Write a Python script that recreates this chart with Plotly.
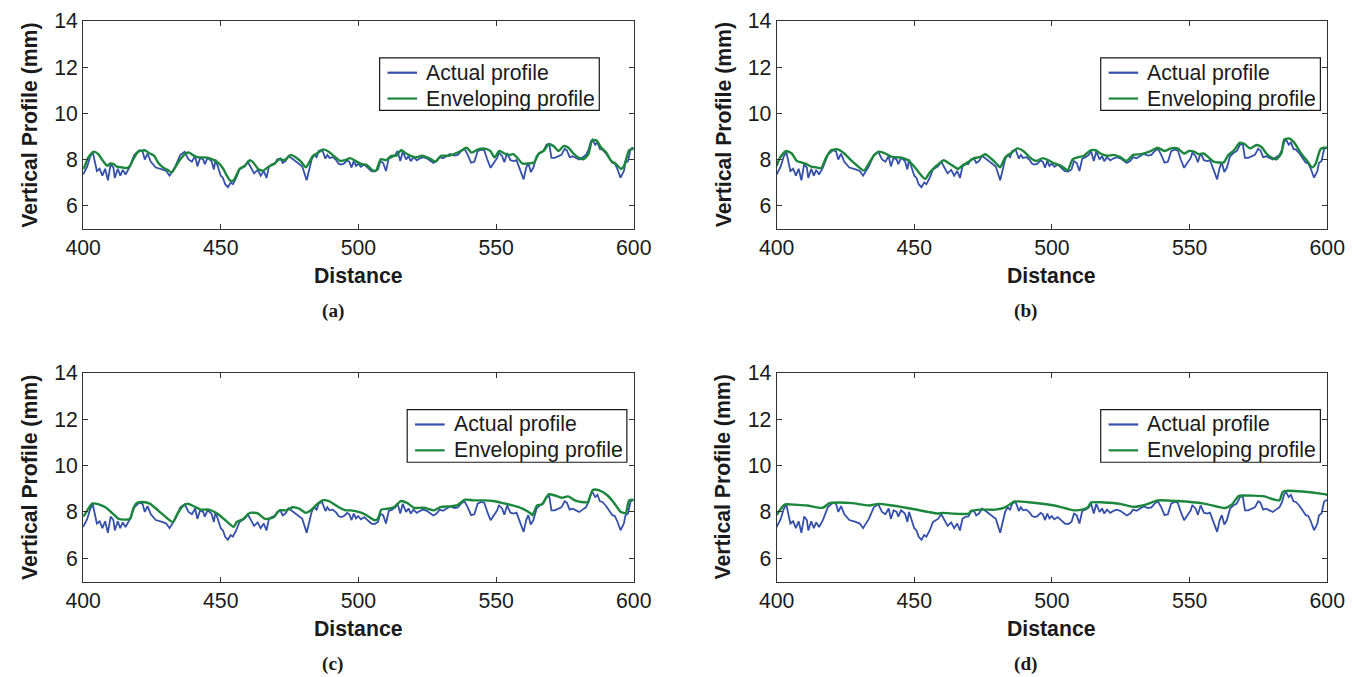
import plotly.graph_objects as go

# Measured road profile (distance, height in mm)
actual_x = [400, 401.5, 402.5, 403.5, 405, 406, 407, 408, 409, 410, 411, 411.5, 412.6, 413.5, 414.4,
            415.4, 416.8, 418.6, 420.4, 421.6, 422.4, 423.4, 424.6, 426.4, 428.7, 430.2, 431.4,
            433.5, 435.3, 436.9, 438.3, 439.5, 440.7, 441.5, 442.5, 443.6, 444.2, 445.2, 446.6,
            447.5, 448.1, 449, 450, 450.8, 451.6, 452.6, 453.6, 454.4, 455.6, 456.8, 458.6,
            459.8, 461, 462.1, 463.4, 464.5, 465.6, 466.6, 467.5, 468.7, 469.6, 470.5, 471.7,
            472.5, 473.5, 474.6, 475.8, 477, 478.2, 479.6, 481.2, 482, 483, 483.9, 484.8, 485.6,
            486.8, 488, 488.7, 489.5, 490.7, 492, 492.8, 493.7, 494.7, 495.9, 496.7, 497.5,
            498.3, 499.1, 499.9, 500.9, 502.1, 503.3, 504.7, 505.9, 507.1, 508, 509, 510, 511,
            512.2, 513.4, 514.2, 515.2, 516.1, 517.3, 518.2, 519, 520, 521.2, 522.4, 523.5,
            524.8, 526, 527.2, 528.4, 529.5, 530.7, 531.9, 533.3, 534.9, 536.1, 537.3, 538.5,
            539.7, 540.9, 542.1, 543.3, 544.5, 545.7, 546.8, 548, 549.2, 550.4, 551, 552.2, 553,
            554, 555.2, 556.4, 557.4, 558.2, 559, 560, 560.9, 561.7, 562.6, 563.5, 564.7, 565.9,
            567.1, 568.3, 569.3, 570.1, 571.3, 572.5, 573.7, 574.9, 575.7, 576.7, 577.8, 579,
            580.2, 581.4, 582.6, 583.6, 584.4, 585, 586, 586.8, 587.7, 588.6, 589.8, 591, 592.2,
            593.1, 594, 595.2, 596.4, 597, 597.9, 598.8, 599.4, 600]
actual_y = [7.35, 7.7, 8.1, 8.33, 7.5, 7.6, 7.3, 7.6, 7.1, 7.8, 7.65, 7.2, 7.6, 7.3, 7.55,
            7.35, 7.65, 8.2, 8.4, 8.35, 8.0, 8.25, 7.9, 7.65, 7.57, 7.5, 7.3,
            7.7, 8.2, 8.33, 8.0, 7.9, 8.15, 7.7, 8.07, 8.0, 7.8, 8.07, 7.93,
            7.57, 8.0, 7.65, 7.3, 7.2, 6.93, 6.8, 7.0, 6.93, 7.2, 7.57, 7.7,
            7.9, 7.65, 7.4, 7.55, 7.3, 7.5, 7.2, 7.7, 7.8, 7.8, 8.0, 8.05,
            7.85, 7.93, 8.15, 8.05, 7.93, 7.85, 7.7, 7.1, 7.57, 8.0, 8.2, 8.1, 8.37,
            8.43, 8.04, 8.2, 8.07, 8.1, 7.96, 7.82, 7.78, 7.82, 7.96, 7.9, 7.65,
            7.93, 7.72, 7.82, 7.68, 7.78, 7.65, 7.5, 7.48, 7.57, 7.93, 7.85, 7.5, 8.04,
            8.1, 8.2, 8.37, 7.93, 8.35, 8.0, 8.15, 7.93, 8.1, 7.96, 8.05, 8.1,
            8.05, 7.96, 7.85, 7.93, 8.1, 8.05, 8.15, 8.24, 8.17, 8.2, 8.36, 8.46,
            8.2, 7.86, 7.9, 8.36, 8.43, 8.4, 8.0, 7.64, 7.86, 8.07, 8.3, 8.14, 7.88,
            8.28, 7.97, 7.93, 7.97, 7.7, 7.46, 7.14, 7.64, 7.86, 7.46, 7.64, 8.14, 8.28,
            8.36, 8.64, 8.68, 8.07, 8.07, 8.14, 8.2, 8.46, 8.4, 8.1, 8.14, 8.07,
            8.0, 8.1, 8.2, 8.43, 8.78, 8.86, 8.64, 8.74, 8.46, 8.43, 8.28, 8.07, 7.86,
            7.83, 7.6, 7.21, 7.5, 7.86, 7.93, 8.43, 8.5, 8.5]

# Enveloping profile, smallest tyre (a)
env_a_x = [400, 400.4, 401.9, 403.9, 405.5, 407.2, 408.7, 409.9, 411.1, 412.3, 414.1, 415.9, 417.1,
           418.2, 420, 422.4, 424.2, 425.8, 427.2, 429, 430.8, 432.2, 433.8, 435.3, 437.3, 438.5,
           440.3, 442.1, 443.9, 445.7, 447.5, 449.3, 450.9, 452.2, 453.4, 454.6, 455.6, 456.8,
           458.8, 460.6, 461.8, 463.6, 465.4, 467.1, 469.5, 471.3, 473.1, 475.5, 477.3, 479.1,
           480.9, 482.1, 483.5, 485.4, 487.4, 489.2, 491, 493.4, 495.2, 497, 499.3, 501.1,
           502.9, 505.3, 506.5, 508.1, 510.1, 511.9, 513.7, 515.5, 517.3, 519, 520.8, 523.2,
           525.6, 528, 530, 532.7, 535.1, 537.1, 539.3, 541.1, 543.5, 545.9, 547.9, 549.4,
           551.2, 553, 554.8, 556.2, 557.8, 559.5, 562, 563.8, 565.5, 567.3, 569.1, 570.9,
           572.7, 574.5, 576.3, 578.1, 579.9, 581.7, 583.5, 584.9, 586.4, 588.2, 590, 591.8,
           593.6, 595.4, 596.5, 598.3, 600]
env_a_y = [7.6, 7.66, 8.09, 8.34, 8.23, 7.94, 7.73, 7.83, 7.8, 7.69, 7.66, 7.63, 7.73,
           8.01, 8.34, 8.4, 8.26, 8.16, 7.87, 7.66, 7.54, 7.44, 7.73, 8.01, 8.26, 8.3,
           8.16, 8.09, 8.09, 8.06, 7.97, 7.83, 7.59, 7.3, 7.09, 7.09, 7.3, 7.59,
           7.73, 7.97, 7.87, 7.59, 7.52, 7.66, 7.83, 8.01, 7.97, 8.2, 8.09, 7.91,
           7.66, 7.87, 8.16, 8.3, 8.44, 8.34, 8.16, 7.94, 7.97, 8.06, 7.91, 7.8,
           7.77, 7.52, 7.54, 8.01, 7.97, 8.16, 8.16, 8.4, 8.26, 8.16, 8.09, 8.16,
           8.06, 7.91, 8.16, 8.16, 8.26, 8.37, 8.51, 8.3, 8.44, 8.47, 8.37, 8.09,
           8.37, 8.26, 8.2, 8.23, 8.06, 7.83, 7.83, 7.87, 8.26, 8.37, 8.66, 8.58,
           8.37, 8.58, 8.51, 8.26, 8.09, 8.01, 8.23, 8.83, 8.83, 8.51, 8.3, 7.94,
           7.8, 7.59, 7.73, 8.4, 8.46]

# Enveloping profile (b)
env_b_x = [400, 401.3, 403.5, 405.5, 407.3, 409.1, 410.9, 412.6, 414.4, 416.2, 418, 419.8, 422.2,
           424.6, 427, 429.3, 431.7, 433.5, 435.3, 437.1, 439.5, 441.9, 444.2, 446, 448.1,
           450.2, 452.6, 454, 455.6, 457.4, 459.1, 460.7, 462.7, 464.5, 465.9, 467.4, 469.9,
           471.7, 474, 475.8, 478.2, 480, 481.2, 483, 485.4, 487.4, 489.6, 492, 494.3, 496.7,
           499.1, 500.9, 503.3, 505.7, 507.5, 509.3, 511.6, 514, 515.8, 517.6, 520, 522.4,
           524.7, 527.1, 529.5, 532.4, 535.4, 538.4, 540.8, 543.2, 545.6, 548, 549.8, 551.6,
           553.3, 555.1, 556.9, 558.7, 560.5, 562.3, 564.1, 565.9, 568.3, 570.1, 571.9,
           574.3, 576.1, 577.9, 579.7, 581.5, 583.3, 584.4, 586.2, 588, 590.3, 592.7, 594.5,
           595.7, 597.5, 598.7, 600]
env_b_y = [7.73, 8.09, 8.37, 8.26, 7.94, 7.87, 7.8, 7.69, 7.66, 7.63, 8.09, 8.4, 8.44,
           8.26, 7.97, 7.73, 7.52, 7.83, 8.16, 8.34, 8.26, 8.11, 8.09, 8.06, 7.94,
           7.66, 7.3, 7.16, 7.44, 7.66, 7.83, 7.97, 7.83, 7.69, 7.59, 7.73, 7.91,
           8.06, 8.11, 8.23, 8.01, 7.8, 7.66, 8.09, 8.3, 8.48, 8.37, 8.09, 7.94, 8.06,
           7.94, 7.83, 7.73, 7.54, 8.01, 8.09, 8.16, 8.4, 8.4, 8.26, 8.16, 8.2,
           8.11, 7.94, 8.2, 8.23, 8.34, 8.51, 8.37, 8.48, 8.48, 8.26, 8.37, 8.34,
           8.23, 8.26, 8.09, 7.91, 7.87, 7.87, 8.2, 8.37, 8.73, 8.66, 8.48,
           8.63, 8.54, 8.26, 8.09, 8.01, 8.26, 8.87, 8.91, 8.73, 8.3, 7.94, 7.66,
           7.8, 8.44, 8.51, 8.51]

# Enveloping profile (c)
env_c_x = [400, 400.4, 401.2, 403.3, 405.7, 408.1, 410.5, 412.9, 415.3, 417.1, 418.2, 419.4, 421.8,
           424.2, 427.2, 430.2, 432.6, 434.3, 436.1, 437.9, 440.3, 442.7, 445.7, 448.7, 451.7,
           454.7, 455.8, 458.2, 460.6, 463.6, 466, 469, 471.3, 473.7, 476.1, 478.5, 480.9,
           482.7, 484.5, 486.9, 489.3, 492.9, 495.3, 497, 500, 502.3, 505.9, 507.1, 508.3,
           510.7, 513, 515.4, 517.8, 520.2, 523.8, 527.4, 529.8, 533.3, 535.7, 538.7, 541.7,
           545.3, 548.9, 552.4, 556, 559.6, 562.6, 563.2, 564.9, 566.7, 569.1, 571.4, 573.8,
           576.2, 578.6, 581, 583.3, 585.1, 587.5, 590.5, 592.9, 595.3, 597.1, 598.3, 600]
env_c_y = [7.8, 7.86, 8.0, 8.36, 8.33, 8.2, 7.96, 7.7, 7.67, 7.7, 8.14, 8.38, 8.43,
           8.36, 8.07, 7.76, 7.57, 7.93, 8.24, 8.36, 8.24, 8.1, 8.1, 7.93, 7.64,
           7.36, 7.57, 7.7, 7.96, 7.93, 7.7, 7.76, 8.07, 8.07, 8.2, 8.14, 7.96,
           8.07, 8.28, 8.5, 8.47, 8.2, 8.07, 8.07, 8.0, 7.9, 7.64, 7.71, 8.1,
           8.14, 8.21, 8.47, 8.38, 8.18, 8.18, 8.07, 8.21, 8.24, 8.28, 8.53, 8.5,
           8.5, 8.47, 8.38, 8.28, 8.14, 7.93, 7.86, 8.28, 8.33, 8.76, 8.71, 8.61,
           8.67, 8.5, 8.43, 8.43, 8.95, 8.93, 8.71, 8.38, 8.0, 7.96, 8.5, 8.53]

# Enveloping profile, largest tyre (d)
env_d_x = [400, 401, 402.5, 403.5, 407, 411, 416.8, 419.2, 422.8, 427.5, 433.5, 436.9, 441.9,
           449, 455, 458.6, 460.3, 465, 469.9, 470.5, 474.6, 479.4, 483, 486.5, 492.5, 500.9,
           508, 511, 512.9, 514.3, 518.8, 524.8, 529.5, 533.7, 538.5, 545.7, 555.2, 562.9,
           565.3, 567.7, 569.5, 576.7, 582.6, 583.8, 585, 591, 598.2, 600]
env_d_y = [7.86, 8.05, 8.28, 8.33, 8.31, 8.28, 8.18, 8.38, 8.41, 8.38, 8.28, 8.35, 8.28,
           8.14, 8.0, 7.93, 7.96, 7.92, 7.93, 8.04, 8.1, 8.1, 8.2, 8.45, 8.41, 8.28,
           8.07, 8.1, 8.18, 8.41, 8.41, 8.35, 8.22, 8.3, 8.5, 8.47, 8.36, 8.17,
           8.31, 8.68, 8.71, 8.68, 8.5, 8.86, 8.91, 8.88, 8.78, 8.74]

x_ticks = [400, 450, 500, 550, 600]
y_ticks = [6, 8, 10, 12, 14]
panel_labels = ["(a)", "(b)", "(c)", "(d)"]
series_names = ["Actual profile", "Enveloping profile"]
envelopes = [(env_a_x, env_a_y), (env_b_x, env_b_y), (env_c_x, env_c_y), (env_d_x, env_d_y)]

W, H = 1370, 677
BLUE = "#3550AA"
GREEN = "#1B873C"
INK = "#1a1a1a"
SANS = "Liberation Sans, Arial, sans-serif"
SERIF = "Liberation Serif, Times New Roman, serif"

# The page body keeps its default 8 px margin and the whole page is fitted
# to the window, so layout positions are given in window pixels and mapped back.
BODY_MARGIN = 8
FIT = W / (W + 2 * BODY_MARGIN)


def px(x):
    return (x / FIT - BODY_MARGIN) / W


def py(y):
    return 1 - (y / FIT - BODY_MARGIN) / H


def fs(size):
    return size / FIT


# plot-area boxes in window pixels: (left, right, top, bottom)
boxes = [(74, 633, 17, 226), (778, 1337, 17, 226), (74, 633, 371, 581), (778, 1337, 371, 581)]
# legend boxes in window pixels: (left, top); all share one size
legend_pos = [(375, 54), (1107, 54), (403, 408), (1107, 408)]
LEG_W, LEG_H = 223, 53

fig = go.Figure()
layout = dict(
    width=W, height=H, margin=dict(l=0, r=0, t=0, b=0),
    paper_bgcolor="white", plot_bgcolor="white", showlegend=False,
    font=dict(family=SANS, size=fs(21), color=INK),
)
annotations = []
shapes = []

for i, (box, (ex, ey)) in enumerate(zip(boxes, envelopes)):
    k = "" if i == 0 else str(i + 1)
    l, r, t, b = box
    fig.add_trace(go.Scatter(x=actual_x, y=actual_y, mode="lines", name=series_names[0],
                             line=dict(color=BLUE, width=1.8), xaxis="x" + k, yaxis="y" + k))
    fig.add_trace(go.Scatter(x=ex, y=ey, mode="lines", name=series_names[1],
                             line=dict(color=GREEN, width=2.4, shape="spline", smoothing=0.6),
                             xaxis="x" + k, yaxis="y" + k))
    axcommon = dict(showline=True, linecolor="#333", linewidth=1, mirror="ticks",
                    ticks="inside", ticklen=5, tickcolor="#333", showgrid=False, zeroline=False,
                    tickfont=dict(family=SANS, size=fs(21), color=INK))
    layout["xaxis" + k] = dict(axcommon, domain=[px(l), px(r)], range=[400, 600],
                               tickvals=x_ticks, anchor="y" + k)
    layout["yaxis" + k] = dict(axcommon, domain=[py(b), py(t)], range=[5, 14],
                               tickvals=y_ticks, anchor="x" + k)

    # boxed legend
    lx, ly = legend_pos[i]
    shapes.append(dict(type="rect", xref="paper", yref="paper",
                       x0=px(lx), x1=px(lx + LEG_W), y0=py(ly + LEG_H), y1=py(ly),
                       line=dict(color=INK, width=1.2), fillcolor="white", layer="above"))
    for j, (name, col) in enumerate(zip(series_names, [BLUE, GREEN])):
        yy = ly + 15 + 26 * j
        shapes.append(dict(type="line", xref="paper", yref="paper",
                           x0=px(lx + 8), x1=px(lx + 38), y0=py(yy), y1=py(yy),
                           line=dict(color=col, width=2.2), layer="above"))
        annotations.append(dict(text=name, x=px(lx + 45), y=py(yy), xref="paper", yref="paper",
                                xanchor="left", yanchor="middle", showarrow=False,
                                font=dict(family=SANS, size=fs(21), color=INK)))

    cx = (l + r) / 2
    annotations.append(dict(text="<b>Distance</b>", x=px(cx), y=py(b + 48),
                            xref="paper", yref="paper", xanchor="center", yanchor="middle",
                            showarrow=False, font=dict(family=SANS, size=fs(21), color=INK)))
    annotations.append(dict(text="<b>Vertical Profile (mm)</b>", x=px(l - 54),
                            y=py((t + b) / 2), xref="paper", yref="paper",
                            xanchor="center", yanchor="middle", showarrow=False, textangle=-90,
                            font=dict(family=SANS, size=fs(21), color=INK)))
    annotations.append(dict(text="<b>" + panel_labels[i] + "</b>", x=px(cx - 26),
                            y=py(b + 83), xref="paper", yref="paper",
                            xanchor="center", yanchor="middle", showarrow=False,
                            font=dict(family=SERIF, size=fs(19), color=INK)))

layout["annotations"] = annotations
layout["shapes"] = shapes
fig.update_layout(**layout)
fig.write_html("out.html")
